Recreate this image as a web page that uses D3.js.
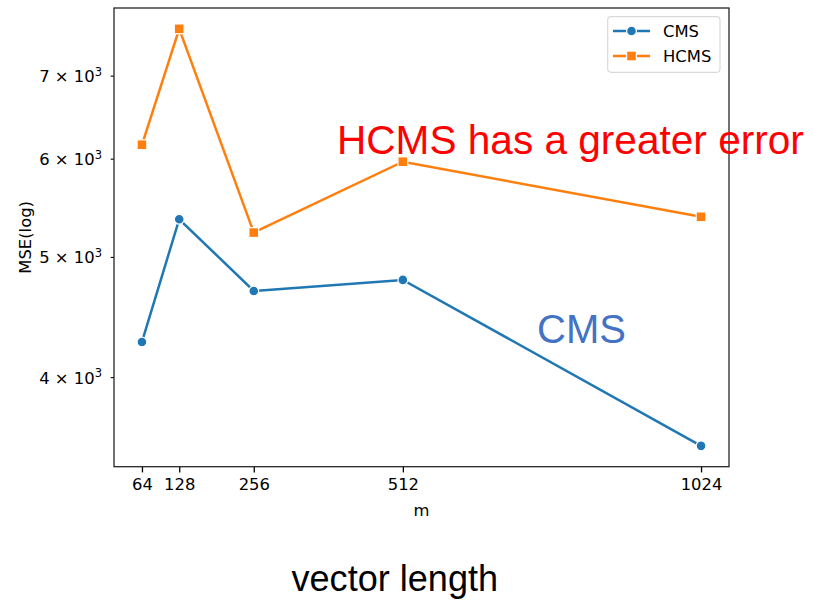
<!DOCTYPE html>
<html>
<head>
<meta charset="utf-8">
<script src="https://cdn.jsdelivr.net/npm/d3@7"></script>
<style>
  body { margin: 0; background: #fff; }
  svg text { font-family: "DejaVu Sans", sans-serif; }
</style>
</head>
<body>
<svg id="chart" width="813" height="600"></svg>
<script>
// values
const vectorLengths = [64, 128, 256, 512, 1024];
const cmsMse = [4270, 5362, 4694, 4791, 3521];
const hcmsMse = [6157, 7635, 5231, 5966, 5386];
const yTicks = [4000, 5000, 6000, 7000];
const seriesNames = ['CMS', 'HCMS'];
const seriesColors = ['#1f77b4', '#ff7f0e'];

const svg = d3.select('#chart');
const box = { left: 114, right: 729, top: 8, bottom: 466.7 };
const arial = '"Liberation Sans", Arial, sans-serif';

// matplotlib-like 5% margins (log space for y)
const xPad = (1024 - 64) * 0.05;
const x = d3.scaleLinear()
  .domain([64 - xPad, 1024 + xPad])
  .range([box.left, box.right]);

const allY = cmsMse.concat(hcmsMse);
const lmin = Math.log10(d3.min(allY)), lmax = Math.log10(d3.max(allY));
const lpad = (lmax - lmin) * 0.05;
const y = d3.scaleLog()
  .domain([Math.pow(10, lmin - lpad), Math.pow(10, lmax + lpad)])
  .range([box.bottom, box.top]);

// x axis
const xAxis = svg.append('g')
  .attr('transform', `translate(0,${box.bottom})`)
  .call(d3.axisBottom(x).tickValues(vectorLengths).tickSize(5.7).tickPadding(5.5).tickFormat(d3.format('d')));
xAxis.select('.domain').remove();
xAxis.selectAll('line').attr('stroke', '#000').attr('stroke-width', 1.3);
xAxis.selectAll('text').attr('font-size', 16.4).attr('fill', '#000');

// y axis (minor ticks, mathtext-like labels)
const yAxis = svg.append('g')
  .attr('transform', `translate(${box.left},0)`)
  .call(d3.axisLeft(y).tickValues(yTicks).tickSize(3.3).tickFormat(() => ''));
yAxis.select('.domain').remove();
yAxis.selectAll('line').attr('stroke', '#000').attr('stroke-width', 1.1);
yAxis.selectAll('.tick').each(function (d) {
  const t = d3.select(this).append('text')
    .attr('x', -12)
    .attr('dy', '0.36em')
    .attr('text-anchor', 'end')
    .attr('font-size', 16.4)
    .attr('fill', '#000');
  t.append('tspan').text(`${d / 1000} × 10`);
  t.append('tspan').attr('font-size', 11.5).attr('dy', '-0.55em').text('3');
});

// frame
svg.append('rect')
  .attr('x', box.left).attr('y', box.top)
  .attr('width', box.right - box.left).attr('height', box.bottom - box.top)
  .attr('fill', 'none').attr('stroke', '#262626').attr('stroke-width', 1.3);

// axis labels
svg.append('text')
  .attr('x', (box.left + box.right) / 2).attr('y', 516)
  .attr('text-anchor', 'middle').attr('font-size', 16.4).attr('fill', '#000')
  .text('m');
svg.append('text')
  .attr('transform', `translate(31,${(box.top + box.bottom) / 2}) rotate(-90)`)
  .attr('text-anchor', 'middle').attr('font-size', 16.4).attr('fill', '#000')
  .text('MSE(log)');

// lines + markers
const line = d3.line().x((d, i) => x(vectorLengths[i])).y(d => y(d));
[cmsMse, hcmsMse].forEach((vals, s) => {
  svg.append('path')
    .datum(vals)
    .attr('d', line)
    .attr('fill', 'none')
    .attr('stroke', seriesColors[s])
    .attr('stroke-width', 2.5);
  const g = svg.append('g');
  vals.forEach((v, i) => {
    if (s === 0) {
      g.append('circle')
        .attr('cx', x(vectorLengths[i])).attr('cy', y(v)).attr('r', 4.9)
        .attr('fill', seriesColors[s]).attr('stroke', '#fff').attr('stroke-width', 1.2);
    } else {
      g.append('rect')
        .attr('x', x(vectorLengths[i]) - 4.9).attr('y', y(v) - 4.9)
        .attr('width', 9.8).attr('height', 9.8)
        .attr('fill', seriesColors[s]).attr('stroke', '#fff').attr('stroke-width', 1.2);
    }
  });
});

// legend
const legend = svg.append('g');
legend.append('rect')
  .attr('x', 607.7).attr('y', 16.7).attr('width', 112.3).attr('height', 55.6)
  .attr('rx', 3.5).attr('fill', '#fff').attr('fill-opacity', 0.8)
  .attr('stroke', '#d9d9d9').attr('stroke-width', 1.2);
seriesNames.forEach((name, s) => {
  const ly = 31 + s * 25;
  legend.append('line')
    .attr('x1', 613).attr('x2', 650).attr('y1', ly).attr('y2', ly)
    .attr('stroke', seriesColors[s]).attr('stroke-width', 2.5);
  if (s === 0) {
    legend.append('circle').attr('cx', 631.5).attr('cy', ly).attr('r', 4.9)
      .attr('fill', seriesColors[s]).attr('stroke', '#fff').attr('stroke-width', 1.2);
  } else {
    legend.append('rect').attr('x', 631.5 - 4.9).attr('y', ly - 4.9).attr('width', 9.8).attr('height', 9.8)
      .attr('fill', seriesColors[s]).attr('stroke', '#fff').attr('stroke-width', 1.2);
  }
  legend.append('text')
    .attr('x', 663).attr('y', ly).attr('dy', '0.36em')
    .attr('font-size', 16.4).attr('fill', '#000')
    .text(name);
});

// annotations
svg.append('text')
  .attr('x', 337).attr('y', 154.3)
  .style('font-family', arial)
  .attr('font-size', 40.6).attr('fill', '#ff0000')
  .text('HCMS has a greater error');
svg.append('text')
  .attr('x', 537).attr('y', 343.3)
  .style('font-family', arial)
  .attr('font-size', 40).attr('fill', '#4472c4')
  .text('CMS');
svg.append('text')
  .attr('x', 291.5).attr('y', 591)
  .style('font-family', arial)
  .attr('font-size', 36.1).attr('fill', '#000')
  .text('vector length');
</script>
</body>
</html>
